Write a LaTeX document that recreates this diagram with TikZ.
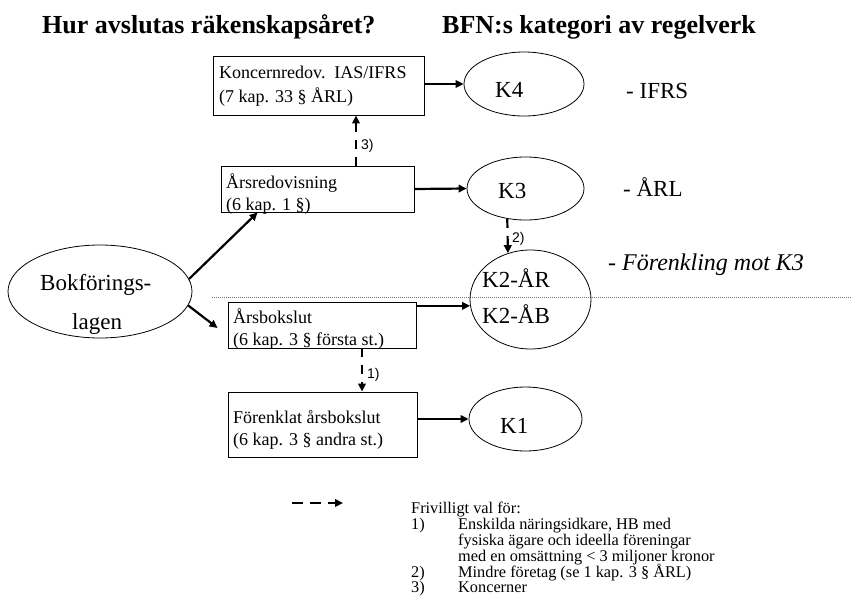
\documentclass[tikz,border=0pt]{standalone}
\usepackage{fontspec}
\setmainfont{Liberation Serif}
\newfontfamily\lsans{Liberation Sans}
\usetikzlibrary{shapes.geometric,arrows.meta}
\begin{document}
\begin{tikzpicture}[x=1pt,y=-1pt,
  box/.style={draw,line width=0.9pt,inner sep=0pt,anchor=center},
  ell/.style={ellipse,draw,line width=0.8pt,inner sep=0pt,anchor=center},
  txt/.style={inner sep=0pt,anchor=base west,font=\fontsize{18}{18}\selectfont},
  big/.style={inner sep=0pt,anchor=base west,font=\fontsize{23}{23}\selectfont},
  ttl/.style={inner sep=0pt,anchor=base west,font=\fontsize{26}{26}\selectfont\bfseries},
  lbl/.style={inner sep=0pt,anchor=base west,font=\fontsize{14}{14}\selectfont\lsans},
  leg/.style={inner sep=0pt,anchor=base west,font=\fontsize{16.3}{16.3}\selectfont},
  arr/.style={line width=2.2pt,-{Triangle[length=8pt,width=7.5pt]}},
  darr/.style={arr,dash pattern=on 9pt off 8pt},
  dotline/.style={line width=0.8pt,draw=black!55,dash pattern=on 1pt off 1pt}]
\useasboundingbox (0,0) rectangle (851,608);

% titles
\node[ttl] (t1) at (42,33) {Hur avslutas räkenskapsåret?};
\node[ttl] (t2) at (442,33) {BFN:s kategori av regelverk};

% dotted separator
\coordinate (d1) at (212,297);
\coordinate (d2) at (851,297);
\draw[dotline] (d1) -- (d2);

% boxes
\node[box,minimum width=211pt,minimum height=59pt] (b1) at (318.5,85.5) {};
\node[box,minimum width=193pt,minimum height=46pt] (b2) at (317.5,189) {};
\node[box,minimum width=188pt,minimum height=46pt] (b3) at (322,325) {};
\node[box,minimum width=189pt,minimum height=65pt] (b4) at (322.5,424.5) {};

\node[txt] (b1a) at (219,78) {Koncernredov.\ \ IAS/IFRS};
\node[txt] (b1b) at (219,102) {(7 kap. 33 § ÅRL)};
\node[txt] (b2a) at (226,188) {Årsredovisning};
\node[txt] (b2b) at (226,210) {(6 kap. 1 §)};
\node[txt] (b3a) at (233,323) {Årsbokslut};
\node[txt] (b3b) at (233,345) {(6 kap. 3 § första st.)};
\node[txt] (b4a) at (233,423) {Förenklat årsbokslut};
\node[txt] (b4b) at (233,445) {(6 kap. 3 § andra st.)};

% ellipses
\node[ell,minimum width=120pt,minimum height=64pt] (k4) at (524,84) {};
\node[ell,minimum width=117pt,minimum height=63pt] (k3) at (525.5,188.5) {};
\node[ell,minimum width=121pt,minimum height=99pt] (k2) at (530.5,299.5) {};
\node[ell,minimum width=113pt,minimum height=64pt] (k1) at (525.5,419) {};
\node[ell,minimum width=184pt,minimum height=93pt] (bok) at (100,291.5) {};

\node[big] (k4t) at (495,97) {K4};
\node[big] (k3t) at (498,198) {K3};
\node[big] (k2a) at (482,287) {K2-ÅR};
\node[big] (k2b) at (482,323) {K2-ÅB};
\node[big] (k1t) at (500,433) {K1};
\node[big] (bokA) at (40,290) {Bokförings-};
\node[big] (bokB) at (72,329) {lagen};

\node[big] (r1) at (626,98) {- IFRS};
\node[big] (r2) at (623,196) {- ÅRL};
\node[big,font=\fontsize{24}{24}\selectfont\itshape] (r3) at (608,270) {- Förenkling mot K3};

% solid arrows
\draw[arr] (b1.east |- k4.west) -- (k4.west);
\draw[arr] (b2.east) -- (k3.west);
\draw[arr] (b3.east |- k2.186) -- (k2.186);
\draw[arr] (b4.east |- k1.west) -- (k1.west);
\draw[arr] (bok.8) -- ([xshift=37pt]b2.south west);
\draw[arr] (bok.-9) -- ([xshift=-10pt,yshift=-3pt]b3.west);

% dashed arrows
\draw[darr] ([xshift=38.5pt]b2.north) -- ([xshift=38.5pt]b2.north |- b1.south);
\draw[darr] (k3.239) -- (k2.116.5);
\draw[darr] ([xshift=40pt]b3.south) -- ([xshift=40pt]b3.south |- b4.north);
\node[lbl] (l3) at (361,149) {3)};
\node[lbl] (l2) at (512,242) {2)};
\node[lbl] (l1) at (367,378) {1)};

% legend
\coordinate (g1) at (292,503);
\coordinate (g2) at (343,503);
\draw[arr,dash pattern=on 11pt off 7pt] (g1) -- (g2);
\node[leg] (e0) at (411,513) {Frivilligt val för:};
\node[leg] (e1) at (411,529) {\makebox[47pt][l]{1)}Enskilda näringsidkare, HB med};
\node[leg] (e2) at (458,545) {fysiska ägare och ideella föreningar};
\node[leg] (e3) at (458,561) {med en omsättning < 3 miljoner kronor};
\node[leg] (e4) at (411,577) {\makebox[47pt][l]{2)}Mindre företag (se 1 kap. 3 § ÅRL)};
\node[leg] (e5) at (411,592) {\makebox[47pt][l]{3)}Koncerner};
\end{tikzpicture}
\end{document}
